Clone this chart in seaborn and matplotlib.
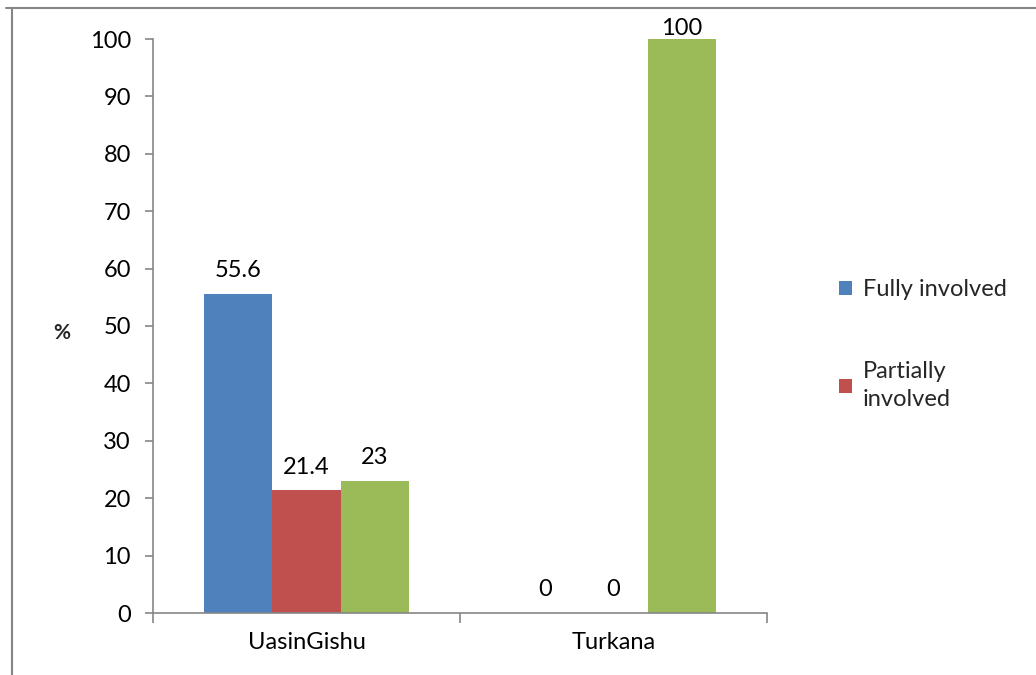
import matplotlib
matplotlib.use("Agg")
import matplotlib.pyplot as plt
import seaborn as sns
import pandas as pd
from matplotlib.lines import Line2D
from matplotlib.patches import Patch

categories = ["UasinGishu", "Turkana"]
series_names = ["Fully involved", "Partially involved", "Not involved"]
fully = [55.6, 0]
partially = [21.4, 0]
not_involved = [23, 100]
colors = ["#4F81BD", "#C0504D", "#9BBB59"]

rows = []
for name, vals in zip(series_names, [fully, partially, not_involved]):
    for c, v in zip(categories, vals):
        rows.append({"County": c, "Series": name, "Value": v})
df = pd.DataFrame(rows)

sns.set_theme(style="white")
plt.rcParams["font.family"] = ["Lato", "DejaVu Sans"]
FS = 17

fig = plt.figure(figsize=(10.36, 6.75), dpi=100)
ax = fig.add_axes([153/1036, 1-613/675, (767-153)/1036, (613-39)/675])

sns.barplot(data=df, x="County", y="Value", hue="Series", order=categories,
            hue_order=series_names, palette=colors, width=0.665, saturation=1,
            ax=ax, legend=False, errorbar=None, linewidth=0)

for cont in ax.containers:
    labels = [("%g" % b.get_height()) for b in cont]
    texts = ax.bar_label(cont, labels=labels, padding=9, fontsize=FS, color="black", clip_on=False)
    for b, t in zip(cont, texts):
        if b.get_height() > 95:
            t.xyann = (t.xyann[0], 0)

ax.set_ylim(0, 100)
ax.set_xlim(-0.5, 1.5)
ax.set_yticks(range(0, 101, 10))
ax.set_xlabel("")
ax.set_ylabel("%", rotation=0, fontsize=15, fontweight="bold", labelpad=0)
ax.yaxis.set_label_coords(-0.148, 0.47)

for side in ["top", "right"]:
    ax.spines[side].set_visible(False)
axis_col = "#868686"
for side in ["left", "bottom"]:
    ax.spines[side].set_color(axis_col)
    ax.spines[side].set_linewidth(1.2)

ax.tick_params(axis="y", which="major", length=6, width=1.2, color=axis_col,
               labelsize=FS, labelcolor="black", pad=10, left=True)
ax.tick_params(axis="x", which="major", length=0, labelsize=FS, labelcolor="black", pad=14)
ax.set_xticks([-0.5, 0.5, 1.5], minor=True)
ax.tick_params(axis="x", which="minor", length=7, width=1.2, color=axis_col, bottom=True)

handles = [Patch(facecolor=colors[0], linewidth=0), Patch(facecolor=colors[1], linewidth=0)]
leg = fig.legend(handles, ["Fully involved", "Partially\ninvolved"],
                 loc="upper left", bbox_to_anchor=(830/1036, 1-270/675), frameon=False,
                 fontsize=FS, handlelength=0.55, handleheight=0.55, handletextpad=0.45,
                 labelspacing=2.55, borderaxespad=0)
for t in leg.get_texts():
    t.set_linespacing(1.45)

fig.add_artist(Line2D([6/1036, 1], [1-8/675, 1-8/675], transform=fig.transFigure,
                      color=axis_col, linewidth=1.5))
fig.add_artist(Line2D([12/1036, 12/1036], [0, 1-8/675], transform=fig.transFigure,
                      color=axis_col, linewidth=1.5))

fig.savefig("out.png", dpi=100)
